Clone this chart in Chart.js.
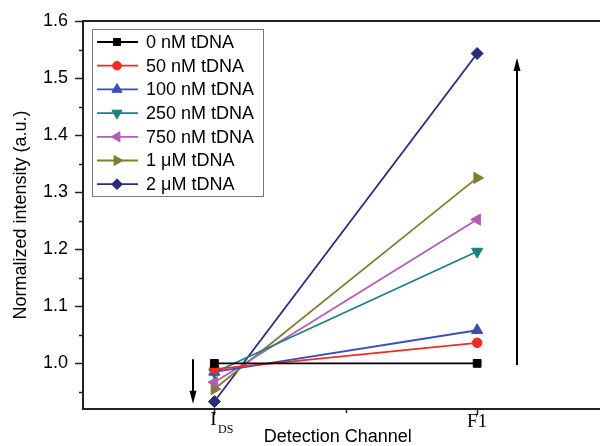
<!DOCTYPE html>
<html>
<head>
<meta charset="utf-8">
<script src="https://cdn.jsdelivr.net/npm/chart.js@4.4.0/dist/chart.umd.min.js"></script>
<style>
  html, body { margin: 0; padding: 0; background: #fff; }
</style>
</head>
<body>
<canvas id="chart" width="600" height="446"></canvas>
<script>
// detection channels (x positions + tick text, main part and subscript)
const channelPos = [1, 2];
const channelMain = ['I', 'F1'];
const channelSub = ['DS', ''];

// normalized intensity per concentration, [I_DS, F1]
const seriesNames = ['0 nM tDNA', '50 nM tDNA', '100 nM tDNA', '250 nM tDNA', '750 nM tDNA', '1 \u03bcM tDNA', '2 \u03bcM tDNA'];
const conc0 = [1.000, 1.000];
const conc50 = [0.990, 1.036];
const conc100 = [0.985, 1.058];
const conc250 = [0.984, 1.196];
const conc750 = [0.967, 1.252];
const conc1u = [0.955, 1.325];
const conc2u = [0.933, 1.543];
const allSeries = [conc0, conc50, conc100, conc250, conc750, conc1u, conc2u];

const seriesColors = ['#000000', '#ee2b25', '#3b4fb2', '#1d8080', '#b25db4', '#7f7f33', '#2c2a7a'];
const seriesMarkers = [
    { style: 'rect', rotation: 0, radius: 5.5 },
    { style: 'circle', rotation: 0, radius: 4.8 },
    { style: 'triangle', rotation: 0, radius: 6.5 },
    { style: 'triangle', rotation: 180, radius: 6.5 },
    { style: 'triangle', rotation: 270, radius: 6.5 },
    { style: 'triangle', rotation: 90, radius: 6.5 },
    { style: 'rectRot', rotation: 0, radius: 6 }
];

// y axis ticks
const yTickValues = [1.0, 1.1, 1.2, 1.3, 1.4, 1.5, 1.6];
const yTickLabels = ['1.0', '1.1', '1.2', '1.3', '1.4', '1.5', '1.6'];
const yMinorValues = [0.95, 1.05, 1.15, 1.25, 1.35, 1.45, 1.55];
const xMinorValues = [1.5];

// the two arrows (data coordinates)
const arrows = [
    { x: 0.917, from: 1.007, to: 0.929 },
    { x: 2.151, from: 0.997, to: 1.535 }
];

const axisColor = '#222222';
const sansFont = '"Liberation Sans", Arial, sans-serif';
const serifFont = '"Liberation Serif", "Times New Roman", serif';

const datasets = allSeries.map(function(vals, i) {
    return {
        label: seriesNames[i],
        data: vals.map(function(v, j) { return { x: channelPos[j], y: v }; }),
        borderColor: seriesColors[i],
        backgroundColor: seriesColors[i],
        borderWidth: 1.8,
        pointStyle: seriesMarkers[i].style,
        rotation: seriesMarkers[i].rotation,
        pointRadius: seriesMarkers[i].radius,
        pointBorderWidth: 1,
        tension: 0
    };
});

function line(ctx, x1, y1, x2, y2) {
    ctx.beginPath();
    ctx.moveTo(x1, y1);
    ctx.lineTo(x2, y2);
    ctx.stroke();
}

const decorPlugin = {
    id: 'decor',
    afterDraw: function(chart) {
        const ctx = chart.ctx;
        const area = chart.chartArea;
        const x = chart.scales.x;
        const y = chart.scales.y;
        ctx.save();

        // top frame line and bottom axis, both running to the canvas edge
        ctx.strokeStyle = axisColor;
        ctx.lineWidth = 2;
        line(ctx, area.left - 1, area.top, chart.width, area.top);
        line(ctx, area.left - 1, area.bottom, chart.width, area.bottom);

        // y ticks, outward
        ctx.lineWidth = 1.5;
        yTickValues.forEach(function(v) {
            const py = Math.round(y.getPixelForValue(v)) + 0.5;
            line(ctx, area.left - 8, py, area.left, py);
        });
        yMinorValues.forEach(function(v) {
            const py = Math.round(y.getPixelForValue(v)) + 0.5;
            line(ctx, area.left - 4, py, area.left, py);
        });

        // x ticks, outward
        channelPos.forEach(function(v) {
            const px = Math.round(x.getPixelForValue(v)) + 0.5;
            line(ctx, px, area.bottom, px, area.bottom + 6);
        });
        xMinorValues.forEach(function(v) {
            const px = Math.round(x.getPixelForValue(v)) + 0.5;
            line(ctx, px, area.bottom, px, area.bottom + 4);
        });

        // x tick labels with subscript
        ctx.fillStyle = '#000';
        ctx.textBaseline = 'alphabetic';
        channelPos.forEach(function(v, i) {
            const px = x.getPixelForValue(v);
            ctx.font = '19px ' + serifFont;
            const w = ctx.measureText(channelMain[i]).width;
            if (channelSub[i]) {
                ctx.textAlign = 'left';
                ctx.fillText(channelMain[i], px - w / 2 - 1, 425);
                ctx.font = '12px ' + serifFont;
                ctx.fillText(channelSub[i], px + w / 2 + 0.5, 433);
            } else {
                ctx.textAlign = 'center';
                ctx.fillText(channelMain[i], px, 427);
            }
        });

        // arrows
        ctx.strokeStyle = '#000';
        ctx.fillStyle = '#000';
        ctx.lineWidth = 2;
        arrows.forEach(function(a) {
            const px = Math.round(x.getPixelForValue(a.x));
            const y1 = y.getPixelForValue(a.from);
            const y2 = y.getPixelForValue(a.to);
            const dir = y2 > y1 ? 1 : -1;
            line(ctx, px, y1, px, y2 - dir * 10);
            ctx.beginPath();
            ctx.moveTo(px, y2);
            ctx.lineTo(px - 3.5, y2 - dir * 13);
            ctx.lineTo(px + 3.5, y2 - dir * 13);
            ctx.closePath();
            ctx.fill();
        });

        // legend box
        const bx = 92, by = 29, bw = 171, bh = 167;
        ctx.fillStyle = '#fff';
        ctx.fillRect(bx, by, bw, bh);
        ctx.strokeStyle = '#777';
        ctx.lineWidth = 1;
        ctx.strokeRect(bx + 0.5, by + 0.5, bw, bh);
        ctx.font = '18px ' + sansFont;
        ctx.textAlign = 'left';
        ctx.textBaseline = 'middle';
        chart.data.datasets.forEach(function(ds, i) {
            const ry = 42 + i * 23.7;
            ctx.strokeStyle = ds.borderColor;
            ctx.fillStyle = ds.borderColor;
            ctx.lineWidth = 1.8;
            line(ctx, 97, ry, 138, ry);
            ctx.lineWidth = 1;
            Chart.helpers.drawPoint(ctx, {
                pointStyle: ds.pointStyle,
                rotation: ds.rotation,
                radius: ds.pointRadius * 0.9,
                borderWidth: 1
            }, 117, ry);
            ctx.fillStyle = '#000';
            ctx.fillText(ds.label, 146, ry + 1);
        });

        ctx.restore();
    }
};

const ctx = document.getElementById('chart').getContext('2d');
new Chart(ctx, {
    type: 'line',
    data: { datasets: datasets },
    options: {
        responsive: false,
        animation: false,
        layout: { padding: { top: 21, right: 0, bottom: 0, left: 0 } },
        plugins: {
            legend: { display: false },
            tooltip: { enabled: false }
        },
        scales: {
            x: {
                type: 'linear',
                min: 0.5,
                max: 2.439,
                grid: { display: false, drawTicks: false },
                border: { display: false },
                ticks: { display: false },
                title: {
                    display: true,
                    text: 'Detection Channel',
                    color: '#000',
                    font: { family: sansFont, size: 18, lineHeight: 1 },
                    padding: { top: 0, bottom: 0 }
                },
                afterFit: function(scale) { scale.height = 37; }
            },
            y: {
                type: 'linear',
                min: 0.92,
                max: 1.6,
                afterBuildTicks: function(scale) {
                    scale.ticks = yTickValues.map(function(v) { return { value: v }; });
                },
                grid: { display: false, drawTicks: true, tickLength: 8 },
                border: { color: axisColor, width: 2 },
                ticks: {
                    color: '#000',
                    padding: 7,
                    font: { family: sansFont, size: 18 },
                    callback: function(value, index) { return yTickLabels[index]; }
                },
                title: {
                    display: true,
                    text: 'Normalized intensity (a.u.)',
                    color: '#000',
                    font: { family: sansFont, size: 18, lineHeight: 1.2 },
                    padding: { top: 10, bottom: 0 }
                },
                afterFit: function(scale) { scale.width = 83; }
            }
        }
    },
    plugins: [decorPlugin]
});
</script>
</body>
</html>
